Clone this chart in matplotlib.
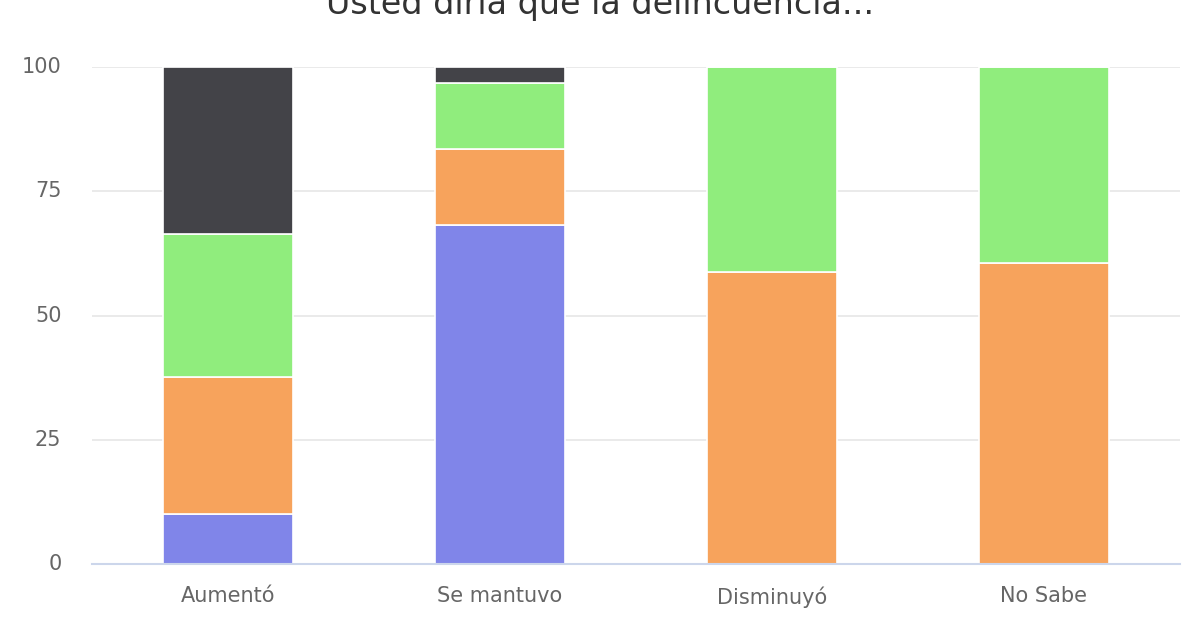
import matplotlib
matplotlib.use("Agg")
import matplotlib.pyplot as plt
import numpy as np

categories = ["Aumentó", "Se mantuvo", "Disminuyó", "No Sabe"]
# stacked from bottom to top
serie_azul = [10.0, 68.2, 0.0, 0.0]
serie_naranja = [27.7, 15.4, 58.8, 60.6]
serie_verde = [28.6, 13.2, 41.2, 39.4]
serie_oscura = [33.7, 3.2, 0.0, 0.0]
yticks = [0, 25, 50, 75, 100]
title = "Usted diría que la delincuencia..."

series = [serie_azul, serie_naranja, serie_verde, serie_oscura]
colors = ["#8085e9", "#f7a35c", "#90ed7d", "#434348"]

fig = plt.figure(figsize=(12, 6.4), dpi=100)
ax = fig.add_axes([92/1200, 1-564/640, 1088/1200, 497/640])

x = np.arange(len(categories))
bottom = np.zeros(len(categories))
for vals, c in zip(series, colors):
    v = np.array(vals)
    ax.bar(x, v, width=130/272, bottom=bottom, color=c, edgecolor="white",
           linewidth=1.2, zorder=3)
    bottom += v

ax.set_xlim(-0.5, len(categories) - 0.5)
ax.set_ylim(0, 100)
ax.set_yticks(yticks)
ax.set_xticks(x)
ax.set_xticklabels(categories)
ax.yaxis.grid(True, color="#e6e6e6", linewidth=1.2, zorder=0)
ax.set_axisbelow(True)
for s in ["top", "right", "left"]:
    ax.spines[s].set_visible(False)
ax.spines["bottom"].set_color("#ccd6eb")
ax.spines["bottom"].set_linewidth(1.5)
ax.spines["bottom"].set_zorder(4)
ax.tick_params(axis="y", length=0, pad=22, labelsize=15, labelcolor="#666666")
ax.tick_params(axis="x", length=0, pad=16, labelsize=15, labelcolor="#666666")
for lab in ax.get_yticklabels():
    lab.set_verticalalignment("center")

fig.text(0.5, 1 - 14/640, title, ha="center", va="baseline",
         fontsize=24, color="#333333")

fig.savefig("out.png", dpi=100, facecolor="white")
